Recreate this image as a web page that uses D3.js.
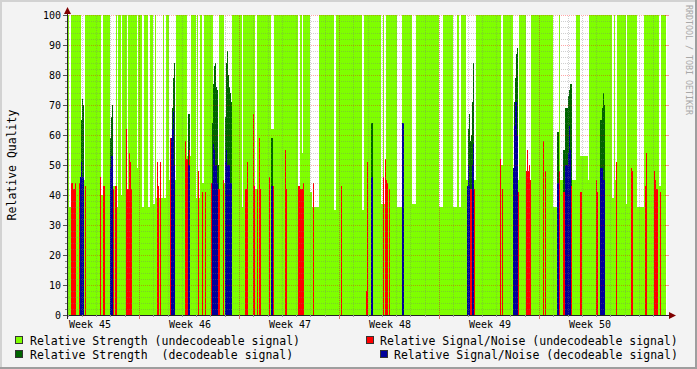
<!DOCTYPE html>
<html><head><meta charset="utf-8">
<script src="https://cdn.jsdelivr.net/npm/d3@7"></script>
<style>body{margin:0;background:#f3f3f3}svg{display:block}</style>
</head><body><svg id="c" width="697" height="369"></svg>
<script>
// ---- data (sample index units, ~1.68 h per sample; 600 samples = 42 days) ----
const nSamples = 599;
// undecodeable strength: 100 except in these runs [start, end, value]
const strengthUndecLow = [[2,4,36],[14,18,45],[34,36,40],[43,49,43],[50,51,36],[54,55,40],[60,61,42],[70,71,49],[75,77,36],[81,83,36],[86,88,37],[89,96,39],[97,99,39],[102,109,45],[120,124,53],[129,130,39],[131,133,39],[135,137,44],[146,152,44],[157,165,44],[175,176,36],[188,190,42],[204,207,62],[231,233,40],[235,236,54],[243,245,41],[245,252,36],[267,269,35],[295,297,35],[314,316,37],[317,319,37],[330,335,36],[345,349,37],[372,376,36],[386,390,36],[392,394,36],[399,409,45],[434,436,50],[446,452,45],[459,464,45],[486,492,36],[493,509,45],[513,521,53],[521,522,45],[545,547,39],[548,550,45],[559,560,37],[570,577,36],[592,594,43]];
const strengthDec = [[13,14,46],[14,15,65],[15,16,72],[16,17,70],[43,44,59],[44,45,66],[45,46,70],[104,105,59],[105,106,69],[106,107,79],[107,108,84],[121,123,67],[145,146,64],[146,147,77],[147,148,83],[148,149,84],[149,150,76],[150,151,75],[151,152,50],[158,159,66],[159,160,84],[160,161,88],[161,162,80],[162,163,76],[163,164,74],[164,165,71],[204,206,59],[304,306,64],[335,336,53],[336,337,64],[400,401,43],[401,402,62],[402,403,67],[403,404,58],[404,405,60],[405,406,71],[406,407,84],[446,447,49],[447,448,71],[448,449,79],[449,450,87],[450,451,89],[490,492,61],[496,498,55],[498,501,69],[501,502,73],[502,503,75],[503,505,77],[533,535,65],[535,536,69],[536,537,74],[537,538,70]];
const snrUndec = [[4,6,44],[6,8,42],[8,9,44],[12,13,44],[18,19,43],[33,34,46],[36,38,43],[46,47,42],[48,50,43],[59,60,62],[60,62,42],[62,63,54],[63,64,51],[64,65,42],[90,91,51],[91,92,43],[93,94,51],[103,104,59],[118,119,58],[119,121,52],[122,123,55],[131,132,48],[135,136,41],[138,139,41],[144,145,44],[151,153,42],[156,157,45],[164,165,42],[178,180,42],[180,181,51],[186,187,67],[187,188,43],[190,191,42],[192,193,59],[193,194,42],[202,203,46],[206,207,43],[218,219,55],[219,220,42],[231,233,43],[233,236,42],[236,237,44],[246,247,44],[274,275,43],[299,300,8],[300,301,51],[316,317,46],[318,319,52],[319,320,45],[320,321,44],[322,323,42],[403,405,42],[407,408,42],[433,434,52],[435,436,42],[451,452,41],[459,460,48],[460,461,55],[461,462,48],[462,463,50],[463,464,45],[476,477,58],[478,479,48],[492,493,48],[496,498,41],[504,505,43],[513,515,41],[529,530,45],[530,531,41],[549,550,51],[564,565,49],[565,566,48],[578,579,43],[579,580,54],[587,588,48],[588,589,45],[589,591,42],[593,594,41]];
const snrDec = [[13,14,46],[14,15,51],[15,17,46],[43,44,49],[44,46,53],[104,105,59],[105,106,62],[106,107,68],[107,108,50],[121,123,50],[145,146,44],[146,147,57],[147,148,55],[148,150,50],[150,151,44],[158,159,51],[159,160,55],[160,163,50],[163,165,44],[204,206,43],[304,306,46],[335,337,64],[400,401,43],[401,402,50],[402,403,43],[405,406,50],[406,407,57],[446,447,49],[447,448,63],[448,450,71],[450,451,60],[490,492,44],[498,501,50],[501,502,54],[502,503,63],[503,504,55],[533,536,49],[536,538,45]];
const weekLabels = ["Week 45","Week 46","Week 47","Week 48","Week 49","Week 50"];
const firstWeekStart = 72;      // sample index of first week boundary
const samplesPerDay = 600/42;
const yTicks = d3.range(0, 101, 10);
const legendItems = [
  {label:"Relative Strength (undecodeable signal)", color:"#7fff00"},
  {label:"Relative Signal/Noise (undecodeable signal)", color:"#ff0000"},
  {label:"Relative Strength  (decodeable signal)", color:"#006400"},
  {label:"Relative Signal/Noise (decodeable signal)", color:"#000099"}
];
const colors = {undecS:"#7fff00", decS:"#006400", undecN:"#ff0000", decN:"#000099"};

// ---- drawing ----
const svg = d3.select("#c");
const W = 697, H = 369;
const x = d3.scaleLinear().domain([0, 600]).range([67, 667]);
const y = d3.scaleLinear().domain([0, 100]).range([315, 15]);
const mono = "'DejaVu Sans Mono', monospace";

// background + 3D border
svg.append("rect").attr("width", W).attr("height", H).attr("fill", "#f3f3f3");
svg.append("rect").attr("x",0).attr("y",0).attr("width",W).attr("height",2).attr("fill","#d2d2d2");
svg.append("rect").attr("x",0).attr("y",0).attr("width",2).attr("height",H).attr("fill","#d2d2d2");
svg.append("rect").attr("x",0).attr("y",H-2).attr("width",W).attr("height",2).attr("fill","#9e9e9e");
svg.append("rect").attr("x",W-2).attr("y",0).attr("width",2).attr("height",H).attr("fill","#9e9e9e");
// canvas
svg.append("rect").attr("x", x(0)).attr("y", y(100)).attr("width", x(600)-x(0)).attr("height", y(0)-y(100)).attr("fill", "#ffffff");

// undecodeable strength per sample
const strength = d3.range(nSamples).map(() => 100);
strengthUndecLow.forEach(([a,b,v]) => { for (let i=a;i<b;i++) strength[i]=v; });
const g = svg.append("g").attr("shape-rendering","crispEdges");
g.selectAll("rect.s").data(strength).join("rect").attr("class","s")
  .attr("x",(d,i)=>x(i)).attr("width",(d,i)=>x(i+1)-x(i))
  .attr("y",d=>y(d)).attr("height",d=>y(0)-y(d)).attr("fill",colors.undecS);
function runs(data, color){
  g.append("g").selectAll("rect").data(data).join("rect")
    .attr("x",d=>x(d[0])).attr("width",d=>x(d[1])-x(d[0]))
    .attr("y",d=>y(d[2])).attr("height",d=>y(0)-y(d[2])).attr("fill",color);
}
runs(strengthDec, colors.decS);
runs(snrUndec, colors.undecN);
runs(snrDec, colors.decN);

// grid (on top, dotted)
const grid = svg.append("g").attr("shape-rendering","crispEdges");
const minorY = d3.range(0, 101, 2).filter(v => v % 10 !== 0);
grid.selectAll("line.hy").data(minorY).join("line")
  .attr("x1", x(0)).attr("x2", x(600)).attr("y1", d=>y(d)+0.5).attr("y2", d=>y(d)+0.5)
  .attr("stroke","rgba(120,120,120,0.35)").attr("stroke-dasharray","1,1");
const dayLines = d3.range(-5, 42).map(j => firstWeekStart + j*samplesPerDay).filter(s => s > 0.5 && s < 600);
grid.selectAll("line.vx").data(dayLines).join("line")
  .attr("x1", d=>Math.round(x(d))+0.5).attr("x2", d=>Math.round(x(d))+0.5).attr("y1", y(0)).attr("y2", y(100))
  .attr("stroke","rgba(120,120,120,0.35)").attr("stroke-dasharray","1,1");
grid.selectAll("line.hY").data(yTicks.filter(v=>v>0)).join("line")
  .attr("x1", x(0)).attr("x2", x(600)).attr("y1", d=>y(d)+0.5).attr("y2", d=>y(d)+0.5)
  .attr("stroke","rgba(255,0,0,0.35)").attr("stroke-dasharray","1,1");
const weekLines = d3.range(0, 5).map(k => firstWeekStart + k*7*samplesPerDay);
grid.selectAll("line.vX").data(weekLines).join("line")
  .attr("x1", d=>Math.round(x(d))+0.5).attr("x2", d=>Math.round(x(d))+0.5).attr("y1", y(0)).attr("y2", y(100))
  .attr("stroke","rgba(255,0,0,0.35)").attr("stroke-dasharray","1,1");

// axes
const ax = svg.append("g").attr("shape-rendering","crispEdges");
ax.append("line").attr("x1", 63).attr("x2", 670).attr("y1", y(0)+0.5).attr("y2", y(0)+0.5).attr("stroke","#222");
ax.append("line").attr("x1", x(0)+0.5).attr("x2", x(0)+0.5).attr("y1", 319).attr("y2", 12).attr("stroke","#222");
// ticks
ax.selectAll("line.yt").data(yTicks).join("line").attr("x1",63).attr("x2",67).attr("y1",d=>y(d)+0.5).attr("y2",d=>y(d)+0.5).attr("stroke","#555");
ax.selectAll("line.ytm").data(minorY).join("line").attr("x1",65).attr("x2",67).attr("y1",d=>y(d)+0.5).attr("y2",d=>y(d)+0.5).attr("stroke","#888");
ax.selectAll("line.ytr").data(yTicks.filter(v=>v>0)).join("line").attr("x1",665).attr("x2",669).attr("y1",d=>y(d)+0.5).attr("y2",d=>y(d)+0.5).attr("stroke","rgba(255,0,0,0.4)");
ax.selectAll("line.xt").data(dayLines).join("line").attr("x1",d=>Math.round(x(d))+0.5).attr("x2",d=>Math.round(x(d))+0.5).attr("y1",315).attr("y2",317).attr("stroke","#999");
ax.selectAll("line.xT").data(weekLines).join("line").attr("x1",d=>Math.round(x(d))+0.5).attr("x2",d=>Math.round(x(d))+0.5).attr("y1",315).attr("y2",319).attr("stroke","#e07070");
// arrows
svg.append("path").attr("d", `M${x(0)-3},14 L${x(0)+0.5},7 L${x(0)+4},14 Z`).attr("fill","#7f0000");
svg.append("path").attr("d", `M669,${y(0)-3} L676,${y(0)+0.5} L669,${y(0)+4} Z`).attr("fill","#7f0000");

// tick labels
svg.selectAll("text.yl").data(yTicks).join("text").attr("class","yl")
  .attr("x", 61).attr("y", d=>y(d)).attr("dy","0.36em").attr("text-anchor","end")
  .attr("font-family", mono).attr("font-size", 10).attr("fill","#000").text(d=>d);
svg.selectAll("text.xl").data(weekLabels).join("text").attr("class","xl")
  .attr("x",(d,i)=>x(firstWeekStart + (i-0.5)*7*samplesPerDay)+1).attr("y",328)
  .attr("text-anchor","middle").attr("font-family",mono).attr("font-size",10).attr("fill","#000").text(d=>d);

// y title
svg.append("text").attr("transform","translate(16,165) rotate(-90)").attr("text-anchor","middle")
  .attr("font-family",mono).attr("font-size",11.5).attr("fill","#000").text("Relative Quality");
// watermark
svg.append("text").attr("transform","translate(686,5) rotate(90)").attr("text-anchor","start")
  .attr("font-family",mono).attr("font-size",8.3).attr("fill","#a8a8a8").text("RRDTOOL / TOBI OETIKER");

// legend
const legPos = [[15,30,345],[366,380,345],[15,30,359],[380,394,359]];
legendItems.forEach((it,i)=>{
  const [bx,tx,by] = legPos[i];
  svg.append("rect").attr("x",bx+0.5).attr("y",by-8.5).attr("width",7).attr("height",7)
    .attr("fill",it.color).attr("stroke","#333").attr("stroke-width",1).attr("shape-rendering","crispEdges");
  svg.append("text").attr("x",tx).attr("y",by).attr("font-family",mono).attr("font-size",11.5)
    .attr("fill","#000").attr("xml:space","preserve").style("white-space","pre").text(it.label);
});
</script></body></html>
